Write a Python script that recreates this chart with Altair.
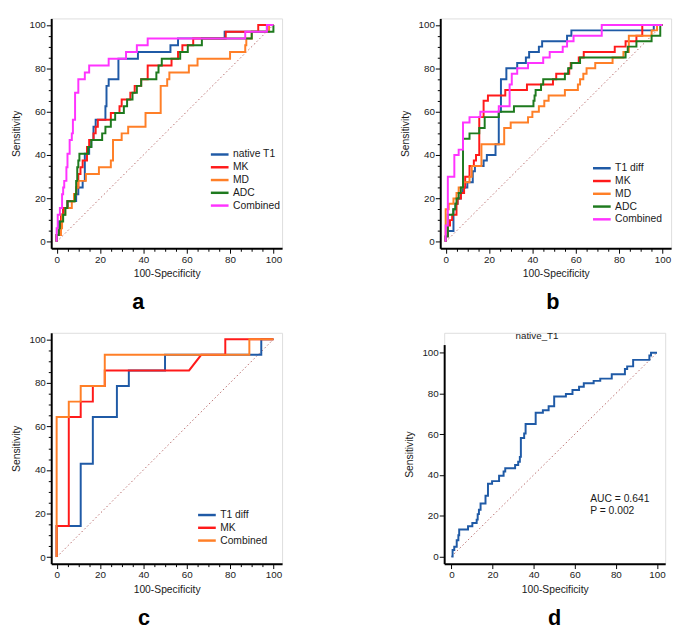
import altair as alt
import pandas as pd

# ---------------- data ----------------
# Panel a
A_NAMES = ["native T1", "MK", "MD", "ADC", "Combined"]
A_COLORS = ["#1f5aa6", "#ff1a1a", "#ff7f27", "#1e7a1e", "#ff33ff"]
A_NATIVE_T1 = [(0,0),(0,3.1),(1,3.1),(1,9.4),(2,9.4),(2,12.5),(3,12.5),(3,15.6),(5,15.6),(5,18.8),(9,18.8),(9,21.9),(10,21.9),(10,25),(12,25),(12,28.1),(13,28.1),(13,40.6),(15,40.6),(15,43.8),(16,43.8),(16,46.9),(17,46.9),(17,53.1),(18,53.1),(18,56.3),(22.5,56.3),(22.5,62.5),(23,62.5),(23,71.9),(24,71.9),(24,75),(28.5,75),(28.5,84.4),(37.5,84.4),(37.5,87.5),(52.5,87.5),(52.5,90.6),(56,90.6),(56,93.8),(77.5,93.8),(77.5,96.9),(97,96.9),(97,100),(100,100)]
A_MK = [(0,0),(0,3.1),(1,3.1),(1,6.25),(2,6.25),(2,12.5),(3,12.5),(3,15.6),(5,15.6),(5,18.75),(8,18.75),(8,21.9),(9,21.9),(9,25),(10,25),(10,31.25),(11,31.25),(11,34.4),(12,34.4),(12,37.5),(14,37.5),(14,43.75),(15,43.75),(15,46.9),(17,46.9),(17,50),(18,50),(18,53.1),(19,53.1),(19,56.25),(25,56.25),(25,59.4),(29,59.4),(29,62.5),(30,62.5),(30,65.6),(34,65.6),(34,68.75),(36,68.75),(36,71.9),(39,71.9),(39,75),(42,75),(42,81.25),(53,81.25),(53,84.4),(56,84.4),(56,87.5),(58,87.5),(58,90.6),(63,90.6),(63,93.75),(78,93.75),(78,96.9),(93,96.9),(93,100),(100,100)]
A_MD = [(0,0),(0,3.1),(2,3.1),(2,6.25),(2.5,6.25),(2.5,12.5),(4,12.5),(4,15.6),(7,15.6),(7,18.75),(8,18.75),(8,21.9),(9,21.9),(9,25),(10,25),(10,28.1),(13.5,28.1),(13.5,31.25),(19.5,31.25),(19.5,34.4),(25,34.4),(25,37.5),(26,37.5),(26,46.9),(30,46.9),(30,50),(33,50),(33,53.1),(41,53.1),(41,59.4),(48,59.4),(48,71.9),(51,71.9),(51,75),(52,75),(52,78.1),(61,78.1),(61,81.25),(65,81.25),(65,84.4),(80,84.4),(80,87.5),(87,87.5),(87,90.6),(87.5,90.6),(87.5,93.75),(90,93.75),(90,96.9),(98,96.9),(98,100),(100,100)]
A_ADC = [(0,0),(0,3.1),(1,3.1),(1,6.25),(1.5,6.25),(1.5,9.4),(3,9.4),(3,12.5),(4,12.5),(4,15.6),(5,15.6),(5,18.75),(8.5,18.75),(8.5,21.9),(9,21.9),(9,28.1),(9.5,28.1),(9.5,34.4),(10,34.4),(10,37.5),(10.5,37.5),(10.5,40.6),(14.5,40.6),(14.5,43.75),(16,43.75),(16,46.9),(21,46.9),(21,50),(22.5,50),(22.5,53.1),(25,53.1),(25,56.25),(27,56.25),(27,59.4),(31,59.4),(31,62.5),(32.5,62.5),(32.5,65.6),(35,65.6),(35,68.75),(37,68.75),(37,71.9),(39,71.9),(39,75),(46,75),(46,78.1),(47,78.1),(47,81.25),(48.5,81.25),(48.5,84.4),(57,84.4),(57,87.5),(60.5,87.5),(60.5,90.6),(67,90.6),(67,93.75),(90,93.75),(90,96.9),(100,96.9),(100,100)]
A_COMBINED = [(0,0),(0,6.25),(0.5,6.25),(0.5,12.5),(1.5,12.5),(1.5,15.6),(2.5,15.6),(2.5,21.9),(3,21.9),(3,25),(3.5,25),(3.5,28.1),(4.5,28.1),(4.5,34.4),(5,34.4),(5,40.6),(6,40.6),(6,46.9),(7,46.9),(7,50),(7.5,50),(7.5,56.25),(8.5,56.25),(8.5,68.75),(10,68.75),(10,75),(13,75),(13,78.1),(15,78.1),(15,81.25),(24,81.25),(24,84.4),(32,84.4),(32,87.5),(37,87.5),(37,90.6),(42,90.6),(42,93.75),(87,93.75),(87,96.9),(97,96.9),(97,100),(100,100)]

# Panel b
B_NAMES = ["T1 diff", "MK", "MD", "ADC", "Combined"]
B_COLORS = ["#1f5aa6", "#ff1a1a", "#ff7f27", "#1e7a1e", "#ff33ff"]
B_T1_DIFF = [(0,0),(0,2.5),(1,2.5),(1,5),(3.6,5),(3.6,15),(4.5,15),(4.5,17.5),(5.5,17.5),(5.5,20),(7,20),(7,22.5),(8,22.5),(8,25),(10,25),(10,27.5),(12.5,27.5),(12.5,32.5),(13.5,32.5),(13.5,35),(17.5,35),(17.5,37.5),(19,37.5),(19,40),(23,40),(23,45),(24.5,45),(24.5,60),(25.5,60),(25.5,75),(28,75),(28,80),(33,80),(33,82.5),(37,82.5),(37,85),(38.5,85),(38.5,87.5),(43,87.5),(43,90),(44.5,90),(44.5,92.5),(56,92.5),(56,95),(58,95),(58,97.5),(96,97.5),(96,100),(100,100)]
B_MK = [(0,0),(0,2.5),(1,2.5),(1,7.5),(2,7.5),(2,10),(3,10),(3,12.5),(5,12.5),(5,17.5),(5.5,17.5),(5.5,20),(7,20),(7,22.5),(8.5,22.5),(8.5,25),(9,25),(9,30),(11,30),(11,35),(13,35),(13,37.5),(14,37.5),(14,40),(15.5,40),(15.5,57.5),(17.5,57.5),(17.5,65),(19.5,65),(19.5,67.5),(27.5,67.5),(27.5,70),(37.5,70),(37.5,72.5),(49.5,72.5),(49.5,75),(51,75),(51,77.5),(57,77.5),(57,80),(57.7,80),(57.7,82.5),(61.4,82.5),(61.4,85),(63.7,85),(63.7,87.5),(78,87.5),(78,90),(83,90),(83,92.5),(88,92.5),(88,95),(90.7,95),(90.7,100),(100,100)]
B_MD = [(0,0),(0,15),(1.4,15),(1.4,17.5),(3.6,17.5),(3.6,20),(5,20),(5,22.5),(6,22.5),(6,25),(8,25),(8,27.5),(11,27.5),(11,30),(12,30),(12,35),(16.5,35),(16.5,45),(27,45),(27,52.5),(30,52.5),(30,55),(38,55),(38,57.5),(40,57.5),(40,60),(43,60),(43,62.5),(45.5,62.5),(45.5,65),(47.5,65),(47.5,67.5),(55,67.5),(55,70),(61,70),(61,72.5),(62,72.5),(62,75),(63.5,75),(63.5,77.5),(65,77.5),(65,80),(69,80),(69,82.5),(77,82.5),(77,85),(82,85),(82,87.5),(84.5,87.5),(84.5,95),(95,95),(95,97.5),(97.5,97.5),(97.5,100),(100,100)]
B_ADC = [(0,0),(0,2.5),(1,2.5),(1,12.5),(3.5,12.5),(3.5,15),(4.5,15),(4.5,17.5),(5,17.5),(5,20),(6,20),(6,22.5),(7,22.5),(7,25),(8,25),(8,47.5),(11,47.5),(11,50),(15.5,50),(15.5,52.5),(18,52.5),(18,57.5),(24.5,57.5),(24.5,60),(31.5,60),(31.5,62.5),(40.5,62.5),(40.5,65),(41,65),(41,67.5),(41.5,67.5),(41.5,70),(44,70),(44,72.5),(45,72.5),(45,75),(55,75),(55,77.5),(56.5,77.5),(56.5,80),(58,80),(58,82.5),(62,82.5),(62,85),(83,85),(83,87.5),(84,87.5),(84,90),(88,90),(88,92.5),(95,92.5),(95,95),(99,95),(99,100),(100,100)]
B_COMBINED = [(0,0),(0,7.5),(1,7.5),(1,30),(4,30),(4,40),(6,40),(6,42.5),(8,42.5),(8,55),(11,55),(11,57.5),(16,57.5),(16,60),(24.5,60),(24.5,62.5),(29.5,62.5),(29.5,72.5),(30.5,72.5),(30.5,77.5),(33,77.5),(33,80),(38,80),(38,82.5),(45,82.5),(45,85),(48,85),(48,87.5),(54,87.5),(54,90),(56,90),(56,92.5),(59,92.5),(59,95),(72,95),(72,100),(100,100)]

# Panel c
C_NAMES = ["T1 diff", "MK", "Combined"]
C_COLORS = ["#1f5aa6", "#ff1a1a", "#ff7f27"]
C_T1_DIFF = [(0,0),(0,14.3),(11.1,14.3),(11.1,42.9),(16.7,42.9),(16.7,64.3),(27.8,64.3),(27.8,78.6),(33.3,78.6),(33.3,85.7),(50,85.7),(50,92.9),(94.4,92.9),(94.4,100),(100,100)]
C_MK = [(0,0),(0,14.3),(5.6,14.3),(5.6,64.3),(11.1,64.3),(11.1,71.4),(16.7,71.4),(16.7,78.6),(22.2,78.6),(22.2,85.7),(61.1,85.7),(66.7,92.9),(77.8,92.9),(77.8,100),(100,100)]
C_COMBINED = [(0,0),(0,64.3),(5.6,64.3),(5.6,71.4),(11.1,71.4),(11.1,78.6),(22.2,78.6),(22.2,92.9),(88.9,92.9),(88.9,100),(100,100)]

# Panel d
D_NAMES = ["native_T1"]
D_COLORS = ["#1f5aa6"]
D_NATIVE_T1 = [(0,0),(0.6,0),(0.6,3.2),(1.4,3.2),(1.4,4.8),(2.6,4.8),(2.6,8),(3.4,8),(3.4,10.4),(3.8,10.4),(3.8,13.3),(8.1,13.3),(8.1,14.9),(10.2,14.9),(10.2,16.5),(12.3,16.5),(12.3,18.1),(12.8,18.1),(12.8,20.8),(13.4,20.8),(13.4,22.9),(14.2,22.9),(14.2,26),(16.6,26),(16.6,29.8),(17.8,29.8),(17.8,35.7),(19.8,35.7),(19.8,37),(23.2,37),(23.2,39.6),(25.4,39.6),(25.4,41.7),(26.2,41.7),(26.2,43.3),(31,43.3),(31,44.9),(32.5,44.9),(32.5,46.5),(33.3,46.5),(33.3,48.9),(33.8,48.9),(33.8,58.2),(35.4,58.2),(35.4,60.4),(36.1,60.4),(36.1,65),(41,65),(41,70.5),(44.5,70.5),(44.5,71.8),(47.3,71.8),(47.3,73.7),(50,73.7),(50,78.5),(55.7,78.5),(55.7,79.8),(58.9,79.8),(58.9,81.7),(62.1,81.7),(62.1,83.3),(64.4,83.3),(64.4,85),(69.2,85),(69.2,86.2),(72.4,86.2),(72.4,87.3),(78,87.3),(78,89.4),(84.4,89.4),(84.4,92),(85.5,92),(85.5,93.3),(88.4,93.3),(88.4,96.5),(96.3,96.5),(96.3,98.6),(97.1,98.6),(97.1,100),(100,100)]
D_STATS_TEXT = ["AUC = 0.641", "P = 0.002"]
D_STATS_X = [67.5, 67.5]
D_STATS_Y = [28.0, 22.5]
D_TITLE = "native_T1"

DIAG = [(0, 0), (100, 100)]
FONT = "Liberation Sans"
LEGEND_LINE = "M-1.5,0L1.5,0"


def curves_df(names, curves):
    rows = []
    for name, pts in zip(names, curves):
        for i, (x, y) in enumerate(pts):
            rows.append({"series": name, "x": x, "y": y, "i": i})
    return pd.DataFrame(rows)


def make_axis(title, title_pad):
    return alt.Axis(
        title=title,
        values=list(range(0, 101, 5)),
        labelExpr="datum.value % 20 === 0 ? datum.label : ''",
        tickSize={"condition": {"test": "datum.value % 20 === 0", "value": 5}, "value": 3},
        tickColor="black",
        tickWidth=1,
        domainColor="black",
        domainWidth=2,
        grid=False,
        labelFont=FONT,
        labelFontSize=10,
        labelColor="#1a1a1a",
        labelPadding=1,
        titleFont=FONT,
        titleFontSize=10.5,
        titleFontWeight="normal",
        titleColor="#1a1a1a",
        titlePadding=title_pad,
    )


def panel(names, colors, curves, w, h, xdom, ydom, legend_pos, letter, dx, offset,
          yrange=None, extra=None):
    xs = alt.Scale(domain=xdom, nice=False, zero=False)
    if yrange is None:
        ys = alt.Scale(domain=ydom, nice=False, zero=False)
    else:
        ys = alt.Scale(domain=ydom, nice=False, zero=False, range=yrange)
    xenc = alt.X("x:Q", scale=xs, axis=make_axis("100-Specificity", 5))
    yenc = alt.Y("y:Q", scale=ys, axis=make_axis("Sensitivity", 8))
    diag = alt.Chart(pd.DataFrame(DIAG, columns=["x", "y"])).mark_line(
        color="#b86a6a", strokeWidth=1, strokeDash=[1.5, 2.5]
    ).encode(x=xenc, y=yenc)
    if legend_pos is None:
        leg = None
    else:
        leg = alt.Legend(
            orient="none", legendX=legend_pos[0], legendY=legend_pos[1], title=None,
            symbolType=LEGEND_LINE, symbolStrokeWidth=2.5, symbolSize=144,
            symbolFillColor="transparent",
            labelFont=FONT, labelFontSize=10.5, labelColor="#1a1a1a",
            labelOffset=6, rowPadding=0, padding=0,
        )
    lines = alt.Chart(curves_df(names, curves)).mark_line(strokeWidth=2).encode(
        x=xenc, y=yenc,
        color=alt.Color("series:N", scale=alt.Scale(domain=names, range=colors), legend=leg),
        order="i:Q",
    )
    layers = [diag, lines] + (extra or [])
    return alt.layer(*layers).properties(
        width=w, height=h,
        title=alt.TitleParams(
            text=letter, orient="bottom", anchor="middle", frame="group",
            fontSize=22, fontWeight="bold", font=FONT, color="black", dx=dx, offset=offset,
        ),
    )


pa = panel(A_NAMES, A_COLORS, [A_NATIVE_T1, A_MK, A_MD, A_ADC, A_COMBINED],
           235, 234, [-2.5, 104], [-3, 103], (164, 131), "a", -29, 13)
pb = panel(B_NAMES, B_COLORS, [B_T1_DIFF, B_MK, B_MD, B_ADC, B_COMBINED],
           235, 234, [-2.5, 104], [-3, 103], (157, 145), "b", -3, 13)
pc = panel(C_NAMES, C_COLORS, [C_T1_DIFF, C_MK, C_COMBINED],
           235, 235, [-2.5, 104], [-3, 103], (151, 178), "c", -23, 14)

stats = alt.Chart(pd.DataFrame({"x": D_STATS_X, "y": D_STATS_Y, "t": D_STATS_TEXT})).mark_text(
    align="left", baseline="middle", font=FONT, fontSize=10.5, color="#1a1a1a"
).encode(x="x:Q", y="y:Q", text="t:N")
dtitle = alt.Chart(pd.DataFrame({"t": [D_TITLE]})).mark_text(
    align="center", baseline="middle", font=FONT, fontSize=10, color="#1a1a1a"
).encode(x=alt.value(94.5), y=alt.value(3), text="t:N")
pd_ = panel(D_NAMES, D_COLORS, [D_NATIVE_T1],
            225, 235, [-3.5, 104], [-3.5, 104], None, "d", 0, 14,
            yrange=[235, 12], extra=[stats, dtitle])

row1 = alt.hconcat(pa, pb, spacing=118).resolve_scale(color="independent", x="independent", y="independent").resolve_legend(color="independent")
row2 = alt.hconcat(pc, pd_, spacing=122).resolve_scale(color="independent", x="independent", y="independent").resolve_legend(color="independent")

chart = alt.vconcat(row1, row2, spacing=17).resolve_scale(
    color="independent", x="independent", y="independent"
).resolve_legend(color="independent").properties(
    padding={"left": 2, "top": 4, "right": 5, "bottom": 0}
).configure_view(stroke=None).configure(font=FONT)

chart.save("out.html", embed_options={"renderer": "svg", "actions": False})
